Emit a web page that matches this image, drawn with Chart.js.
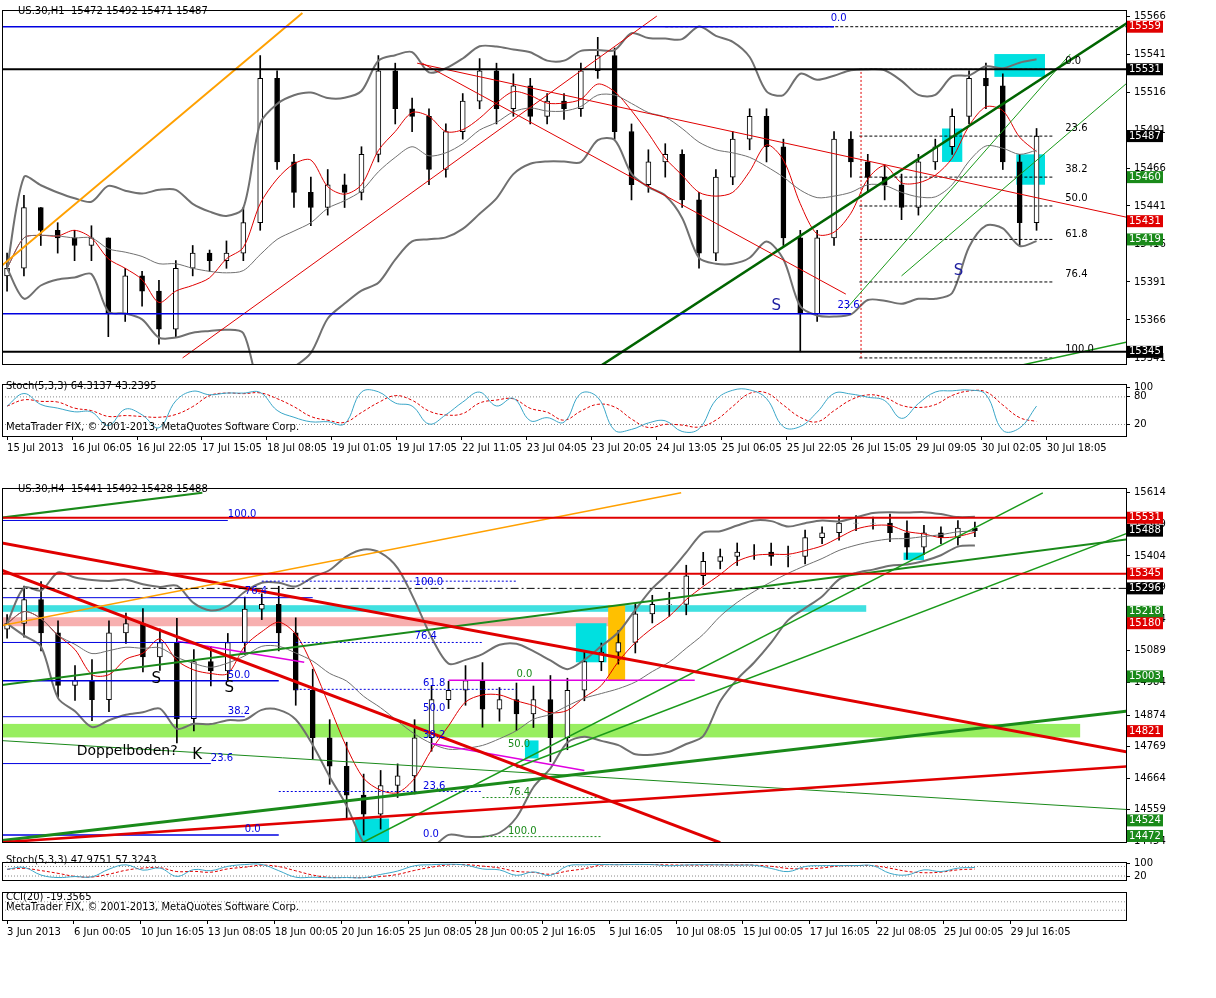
<!DOCTYPE html><html><head><meta charset="utf-8">
<script src="https://cdn.jsdelivr.net/npm/chart.js@4.4.0/dist/chart.umd.min.js"></script>
<style>body{margin:0;background:#fff;width:1216px;height:998px;position:relative;overflow:hidden}div.p{position:absolute;left:0;width:1216px}</style></head><body>
<div class="p" style="top:0;height:374px"><canvas id="c1" width="1216" height="374"></canvas></div>
<div class="p" style="top:374px;height:82px"><canvas id="c2" width="1216" height="82"></canvas></div>
<div class="p" style="top:478px;height:374px"><canvas id="c3" width="1216" height="374"></canvas></div>
<div class="p" style="top:852px;height:38px"><canvas id="c4" width="1216" height="38"></canvas></div>
<div class="p" style="top:890px;height:50px"><canvas id="c5" width="1216" height="50"></canvas></div>
<script>
// ---------- DATA ----------
const topXLabels=['15 Jul 2013','16 Jul 06:05','16 Jul 22:05','17 Jul 15:05','18 Jul 08:05','19 Jul 01:05','19 Jul 17:05','22 Jul 11:05','23 Jul 04:05','23 Jul 20:05','24 Jul 13:05','25 Jul 06:05','25 Jul 22:05','26 Jul 15:05','29 Jul 09:05','30 Jul 02:05','30 Jul 18:05'];
const topYTicks=[15566,15541,15516,15491,15466,15441,15416,15391,15366,15341];
const topClose=[15400,15440,15425,15420,15415,15420,15370,15395,15385,15360,15400,15410,15405,15410,15430,15525,15470,15450,15440,15455,15450,15475,15530,15505,15500,15465,15490,15510,15530,15505,15520,15500,15510,15505,15530,15540,15490,15455,15470,15475,15445,15410,15460,15485,15500,15480,15420,15370,15420,15485,15470,15460,15455,15440,15470,15480,15500,15525,15520,15470,15430,15487];
const topHigh=[15410,15448,15440,15430,15425,15428,15420,15400,15398,15392,15405,15415,15412,15418,15440,15540,15530,15475,15460,15465,15462,15480,15540,15535,15512,15505,15495,15515,15538,15535,15528,15525,15515,15515,15535,15552,15545,15495,15478,15482,15478,15450,15465,15490,15505,15505,15485,15425,15425,15490,15490,15475,15468,15462,15475,15485,15505,15530,15535,15528,15475,15492];
const topLow=[15385,15395,15415,15410,15405,15405,15355,15365,15375,15350,15355,15395,15398,15400,15405,15425,15465,15440,15428,15435,15440,15445,15470,15495,15490,15455,15460,15485,15505,15495,15500,15495,15495,15498,15500,15525,15485,15445,15450,15460,15440,15400,15405,15455,15478,15470,15415,15345,15365,15415,15460,15450,15445,15432,15435,15465,15475,15495,15505,15465,15415,15425];
const topBoxes=[[15559,'#e00000'],[15531,'#000'],[15487,'#000'],[15460,'#1a8a1a'],[15431,'#e00000'],[15419,'#1a8a1a'],[15345,'#000']];
const botXLabels=['3 Jun 2013','6 Jun 00:05','10 Jun 16:05','13 Jun 08:05','18 Jun 00:05','20 Jun 16:05','25 Jun 08:05','28 Jun 00:05','2 Jul 16:05','5 Jul 16:05','10 Jul 08:05','15 Jul 00:05','17 Jul 16:05','22 Jul 08:05','25 Jul 00:05','29 Jul 16:05'];
const botYTicks=[15614,15509,15404,15299,15194,15089,14984,14874,14769,14664,14559,14454];
const botClose=[15179,15259,15148,14973,14989,14926,15148,15179,15068,15116,14862,15052,15021,15116,15227,15243,15148,14957,14799,14704,14608,14545,14640,14672,14799,14926,14957,14989,14894,14926,14878,14926,14799,14957,15052,15084,15116,15211,15243,15243,15338,15386,15402,15417,15417,15402,15402,15465,15481,15513,15513,15513,15481,15433,15481,15465,15497,15488];
const botWick=[30,45,60,40,50,70,40,35,50,45,80,40,50,30,40,35,60,50,70,60,80,70,50,40,60,45,30,50,60,40,55,45,80,40,35,30,40,35,30,40,35,30,25,30,25,30,35,25,20,25,25,20,30,40,25,20,25,20];
const botBoxes=[[15531,'#e00000'],[15488,'#000'],[15345,'#e00000'],[15296,'#000'],[15218,'#1a8a1a'],[15180,'#e00000'],[15003,'#1a8a1a'],[14821,'#e00000'],[14524,'#1a8a1a'],[14472,'#1a8a1a']];
// ---------- HELPERS ----------
Chart.defaults.font.family='Tahoma,"DejaVu Sans",sans-serif';Chart.defaults.font.size=10;Chart.defaults.color='#000';Chart.defaults.animation=false;
function candles(c,h,l,o0){const o=[],H=[],L=[];c.forEach((v,i)=>{const op=i?c[i-1]:o0;o.push(op);H.push(Math.max(h[i],op,v));L.push(Math.min(l[i],op,v));});return{o,h:H,l:L,c};}
function band(a,p,m){const mid=[],up=[],lo=[];a.forEach((v,i)=>{const s=Math.max(0,i-p+1),w=a.slice(s,i+1);const mu=w.reduce((x,y)=>x+y,0)/w.length;const sd=Math.sqrt(w.reduce((x,y)=>x+(y-mu)**2,0)/w.length);mid.push(mu);up.push(mu+m*sd);lo.push(mu-m*sd);});return{mid,up,lo};}
function stoch(C){const k=[],d=[];C.c.forEach((v,i)=>{const s=Math.max(0,i-4);const hh=Math.max(...C.h.slice(s,i+1)),ll=Math.min(...C.l.slice(s,i+1));k.push(hh>ll?100*(v-ll)/(hh-ll):50);});k.forEach((v,i)=>{const w=k.slice(Math.max(0,i-2),i+1);d.push(w.reduce((a,b)=>a+b,0)/w.length);});return{k,d};}
const pts=a=>a.map((y,i)=>({x:i,y}));
const seg=(x1,y1,x2,y2,c,w,dash)=>({type:'line',data:[{x:x1,y:y1},{x:x2,y:y2}],borderColor:c,borderWidth:w||1,borderDash:dash||[],pointRadius:0,order:0});
const decor={id:'decor',
beforeDatasetsDraw(ch){const o=ch.options.plugins.decor||{},x=ch.scales.x,y=ch.scales.y,g=ch.ctx;g.save();g.beginPath();g.rect(ch.chartArea.left,ch.chartArea.top,ch.chartArea.width,ch.chartArea.height);g.clip();
(o.bands||[]).forEach(b=>{g.fillStyle=b[4];const X1=x.getPixelForValue(b[0]),X2=x.getPixelForValue(b[1]),Y1=y.getPixelForValue(b[3]),Y2=y.getPixelForValue(b[2]);g.fillRect(X1,Y1,X2-X1,Y2-Y1);});g.restore();},
afterDraw(ch){const o=ch.options.plugins.decor||{},x=ch.scales.x,y=ch.scales.y,g=ch.ctx,a=ch.chartArea;g.save();
(o.texts||[]).forEach(t=>{g.font=t[4]||'10px Tahoma,"DejaVu Sans"';g.fillStyle=t[3]||'#000';g.textAlign='left';g.textBaseline='bottom';g.fillText(t[2],x.getPixelForValue(t[0]),y.getPixelForValue(t[1]));});
g.strokeStyle='#000';g.lineWidth=1;g.strokeRect(a.left+0.5,a.top+0.5,a.width,a.height);
(o.boxes||[]).forEach(b=>{const Y=y.getPixelForValue(b[0]);g.fillStyle=b[1];g.fillRect(a.right+1,Y-6,36,12);g.fillStyle='#fff';g.font='10px Tahoma,"DejaVu Sans"';g.textBaseline='middle';g.textAlign='left';g.fillText(String(b[0]),a.right+3,Y);});
(o.labels||[]).forEach(t=>{g.font='10px Tahoma,"DejaVu Sans"';g.fillStyle='#000';g.textAlign='left';g.textBaseline='top';g.fillText(t[0],t[1],t[2]);});
g.restore();}};
function yAxis(min,max,ticks,show){return{type:'linear',position:'right',min,max,afterFit:s=>{s.width=90},afterBuildTicks:s=>{s.ticks=ticks.map(v=>({value:v}))},ticks:{display:show!==false,padding:4,font:{size:10},callback:v=>String(v)},grid:{drawOnChartArea:false,tickLength:4,color:'#000'},border:{display:false}};}
function xAxis(min,max,labels,step,show){return{type:'linear',offset:false,min,max,display:show,afterBuildTicks:s=>{s.ticks=labels.map((l,i)=>({value:i*step}))},ticks:{autoSkip:false,maxRotation:0,align:'start',padding:2,callback:(v)=>labels[Math.round(v/step)]||''},grid:{offset:false,drawOnChartArea:false,tickLength:4,color:'#000'},border:{display:false}};}
function priceChart(id,C,bbd,ma,xmin,xmax,xl,step,ymin,ymax,yt,segs,dec,pad,bw){
const ds=[{type:'bar',data:C.c.map((v,i)=>({x:i,y:[C.l[i],C.h[i]]})),backgroundColor:'#000',barThickness:1,grouped:false,order:3},
{type:'bar',data:C.c.map((v,i)=>({x:i,y:[Math.min(C.o[i],v),Math.max(C.o[i],v)+0.01]})),backgroundColor:C.c.map((v,i)=>v>=C.o[i]?'#fff':'#000'),borderColor:'#000',borderWidth:1,borderSkipped:false,barThickness:bw,grouped:false,order:2},
{type:'line',data:pts(bbd.up),borderColor:'#707070',borderWidth:2,pointRadius:0,order:1,tension:0.3},
{type:'line',data:pts(bbd.lo),borderColor:'#707070',borderWidth:2,pointRadius:0,order:1,tension:0.3},
{type:'line',data:pts(bbd.mid),borderColor:'#707070',borderWidth:1,pointRadius:0,order:1,tension:0.3},
{type:'line',data:pts(ma),borderColor:'#e00000',borderWidth:1,pointRadius:0,order:1,tension:0.3}].concat(segs);
return new Chart(document.getElementById(id),{type:'bar',data:{datasets:ds},plugins:[decor],options:{responsive:false,devicePixelRatio:1,layout:{padding:pad},plugins:{legend:{display:false},tooltip:{enabled:false},decor:dec},scales:{x:xAxis(xmin,xmax,xl,step,false),y:yAxis(ymin,ymax,yt)}}});}
function stochChart(id,C,xmin,xmax,xl,step,showX,pad,label){const s=stoch(C);
return new Chart(document.getElementById(id),{type:'line',data:{datasets:[
{data:pts(s.k),borderColor:'#3aa6c8',borderWidth:1,pointRadius:0,tension:0.4},
{data:pts(s.d),borderColor:'#e00000',borderWidth:1,borderDash:[3,2],pointRadius:0,tension:0.4},
seg(xmin,80,xmax,80,'#888',1,[1,2]),seg(xmin,20,xmax,20,'#888',1,[1,2])]},plugins:[decor],
options:{responsive:false,devicePixelRatio:1,layout:{padding:pad},plugins:{legend:{display:false},tooltip:{enabled:false},decor:{labels:label}},scales:{x:xAxis(xmin,xmax,xl,step,showX),y:yAxis(-5,108,[100,80,20],true)}}});}
// ---------- TOP ----------
const T=candles(topClose,topHigh,topLow,15395);const Tb=band(topClose,10,2);const Tm=band(topClose,4,0).mid;
const topSegs=[seg(-0.5,15559,49,15559,'#0000e0',1.5),seg(-0.5,15531,67,15531,'#000',2),seg(-0.5,15370,50,15370,'#0000e0',1.5),seg(-0.5,15345,67,15345,'#000',2),
seg(-0.5,15400,17.5,15568,'#ffa000',2),seg(10.4,15341,38.5,15566,'#e00000',1),seg(24.3,15535,67,15432,'#e00000',1),seg(24.6,15535,49.7,15383,'#e00000',1),
seg(35.2,15336,67,15566,'#006400',2.5),seg(49.7,15373,63,15541,'#1a9a1a',1),seg(53,15395,67,15528,'#1a9a1a',1),seg(60,15336,67,15353,'#1a9a1a',1.5),
seg(50.6,15341,50.6,15531,'#e00000',1,[2,2]),
seg(50.5,15531,62,15531,'#000',1,[3,2]),seg(50.5,15487,62,15487,'#000',1,[3,2]),seg(50.5,15460,62,15460,'#000',1,[3,2]),seg(50.5,15441,62,15441,'#000',1,[3,2]),seg(50.5,15419,62,15419,'#000',1,[3,2]),seg(50.5,15391,62,15391,'#000',1,[3,2]),seg(50.5,15341,62,15341,'#000',1,[3,2]),seg(39,15559,67,15559,'#000',1,[3,2])];
const topDec={bands:[[58.5,61.5,15526,15541,'#00e0e0'],[55.4,56.6,15470,15492,'#00e0e0'],[59.8,61.5,15455,15475,'#00e0e0']],
texts:[[48.8,15561,'0.0','#0000e0'],[62.7,15533,'0.0'],[62.7,15489,'23.6'],[62.7,15462,'38.2'],[62.7,15443,'50.0'],[62.7,15419,'61.8'],[62.7,15393,'76.4'],[62.7,15343,'100.0'],[49.2,15372,'23.6','#0000e0'],
[45.3,15370,'S','#2020a0','15px "DejaVu Sans"'],[56.1,15393,'S','#2020a0','15px "DejaVu Sans"']],boxes:topBoxes.map(b=>[b[0],b[1]]),labels:[['US.30,H1  15472 15492 15471 15487',18,6]]};
priceChart('c1',T,Tb,Tm,-0.3,66.3,topXLabels,3.85,15337,15570,topYTicks,topSegs,topDec,{top:4,bottom:2,left:2},5);
stochChart('c2',T,-0.3,66.3,topXLabels,3.85,true,{top:4,left:2},[['Stoch(5,3,3) 64.3137 43.2395',6,7],['MetaTrader FIX, © 2001-2013, MetaQuotes Software Corp.',6,48]]);
// ---------- BOTTOM ----------
const Bh=botClose.map((v,i)=>Math.max(v,i?botClose[i-1]:15160)+botWick[i]),Bl=botClose.map((v,i)=>Math.min(v,i?botClose[i-1]:15160)-botWick[i]);
const B=candles(botClose,Bh,Bl,15160);const Bb=band(botClose,10,2);const Bm=band(botClose,4,0).mid;
const botSegs=[seg(-0.5,15531,66,15531,'#e00000',2),seg(-0.5,15345,66,15345,'#e00000',2),seg(-0.5,15296,66,15296,'#000',1,[8,3,2,3]),
seg(-0.5,15170,39.7,15614,'#ffa000',1.5),seg(-0.5,15449,66,14751,'#e00000',3),seg(-0.5,15360,42,14450,'#e00000',3),seg(-0.5,14450,66,14704,'#e00000',2.5),
seg(-0.5,14456,66,14888,'#1a8a1a',3),seg(-0.5,14973,66,15459,'#1a8a1a',2),seg(21,14452,61,15614,'#1a9a1a',1.5),seg(30,14700,66,15480,'#1a9a1a',1.5),seg(-0.5,15530,11.5,15614,'#1a8a1a',2),seg(-0.5,14790,66,14560,'#1a8a1a',1),
seg(-0.5,15522,13,15522,'#0000e0',1),seg(-0.5,15265,18,15265,'#0000e0',1),seg(-0.5,15116,16,15116,'#0000e0',1),seg(-0.5,14989,16,14989,'#0000e0',1.5),seg(-0.5,14869,14,14869,'#0000e0',1),seg(-0.5,14713,12,14713,'#0000e0',1),seg(-0.5,14475,16,14475,'#0000e0',1.5),
seg(15,15320,30,15320,'#0000e0',1,[2,2]),seg(17,15116,28,15116,'#0000e0',1,[2,2]),seg(17,14960,30,14960,'#0000e0',1,[2,2]),seg(16,14620,28,14620,'#0000e0',1,[2,2]),
seg(28,14600,35,14600,'#1a8a1a',1,[2,2]),seg(28,14470,35,14470,'#1a8a1a',1,[2,2]),
seg(10,15120,17.5,15050,'#e000e0',1.5),seg(26,14990,40.5,14990,'#e000e0',1.5),seg(25,14780,34,14690,'#e000e0',1.5)];
const botDec={bands:[[-0.5,35.6,15170,15200,'rgba(240,110,110,0.55)'],[-0.5,50.6,15218,15240,'#40e0e0'],[-0.5,63.2,14800,14845,'#98ee60'],[20.5,22.5,14452,14530,'#00e0e0'],[33.5,35.3,15050,15180,'#00e0e0'],[35.4,36.4,14990,15240,'#ffc000'],[52.8,54,15390,15415,'#00e0e0'],[30.5,31.3,14730,14790,'#00e0e0']],
texts:[[13,15525,'100.0','#0000e0'],[14,15268,'76.4','#0000e0'],[13,14990,'50.0','#0000e0'],[13,14870,'38.2','#0000e0'],[12,14715,'23.6','#0000e0'],[14,14477,'0.0','#0000e0'],[24,15300,'100.0','#0000e0'],[24,15118,'76.4','#0000e0'],[24.5,14962,'61.8','#0000e0'],[24.5,14880,'50.0','#0000e0'],[24.5,14790,'38.2','#0000e0'],[24.5,14622,'23.6','#0000e0'],[30,14992,'0.0','#1a8a1a'],[29.5,14760,'50.0','#1a8a1a'],[29.5,14602,'76.4','#1a8a1a'],[29.5,14472,'100.0','#1a8a1a'],[24.5,14462,'0.0','#0000e0'],
[4.1,14730,'Doppelboden?','#000','14px "DejaVu Sans"'],[8.5,14968,'S','#000','15px "DejaVu Sans"'],[12.8,14940,'S','#000','15px "DejaVu Sans"'],[10.9,14715,'K','#000','15px "DejaVu Sans"']],
boxes:botBoxes.map(b=>[b[0],b[1]]),labels:[['US.30,H4  15441 15492 15428 15488',18,6]]};
priceChart('c3',B,Bb,Bm,-0.3,65.9,botXLabels,3.94,14452,15630,botYTicks,botSegs,botDec,{top:4,bottom:2,left:2},5);
stochChart('c4',B,-0.3,65.9,botXLabels,3.94,false,{top:2,bottom:0,left:2},[['Stoch(5,3,3) 47.9751 57.3243',6,3]]);
new Chart(document.getElementById('c5'),{type:'line',data:{datasets:[seg(-0.3,30,65.9,30,'#999',1,[1,2]),seg(-0.3,-30,65.9,-30,'#999',1,[1,2])]},plugins:[decor],
options:{responsive:false,devicePixelRatio:1,layout:{padding:{top:2,left:2}},plugins:{legend:{display:false},tooltip:{enabled:false},decor:{labels:[['CCI(20) -19.3565',6,2],['MetaTrader FIX, © 2001-2013, MetaQuotes Software Corp.',6,12]]}},
scales:{x:xAxis(-0.3,65.9,botXLabels,3.94,true),y:yAxis(-100,100,[],false)}}});
</script></body></html>
